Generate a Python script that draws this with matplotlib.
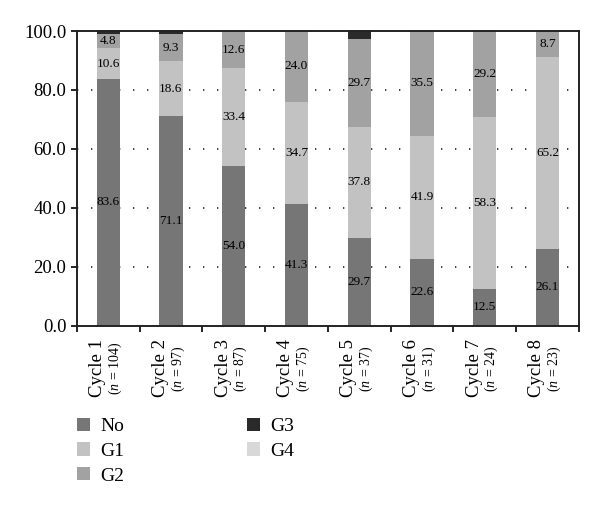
import matplotlib
matplotlib.use("Agg")
import matplotlib.pyplot as plt
from matplotlib.patches import Patch
import numpy as np

plt.rcParams['font.family'] = ['Liberation Serif', 'DejaVu Serif']
plt.rcParams['mathtext.fontset'] = 'custom'
plt.rcParams['mathtext.it'] = 'Liberation Serif:italic'
plt.rcParams['mathtext.rm'] = 'Liberation Serif'

cycles = ["Cycle 1", "Cycle 2", "Cycle 3", "Cycle 4", "Cycle 5", "Cycle 6", "Cycle 7", "Cycle 8"]
n_values = [104, 97, 87, 75, 37, 31, 24, 23]
no_vals = [83.6, 71.1, 54.0, 41.3, 29.7, 22.6, 12.5, 26.1]
g1_vals = [10.6, 18.6, 33.4, 34.7, 37.8, 41.9, 58.3, 65.2]
g2_vals = [4.8, 9.3, 12.6, 24.0, 29.7, 35.5, 29.2, 8.7]
g3_vals = [1.0, 1.0, 0.0, 0.0, 2.7, 0.0, 0.0, 0.0]
g4_vals = [0.0, 0.0, 0.0, 0.0, 0.0, 0.0, 0.0, 0.0]
series_names = ["No", "G1", "G2", "G3", "G4"]
colors = ["#767676", "#c2c2c2", "#a2a2a2", "#2a2a2a", "#d8d8d8"]
labelled = [True, True, True, False, False]

fig = plt.figure(figsize=(6.0, 5.09), dpi=100)
ax = fig.add_axes([0.128, 0.3605, 0.837, 0.5785])

x = np.arange(len(cycles))
width = 0.37
bottom = np.zeros(len(cycles))
series = [no_vals, g1_vals, g2_vals, g3_vals, g4_vals]
for vals, c, lab in zip(series, colors, labelled):
    v = np.array(vals)
    ax.bar(x, v, width, bottom=bottom, color=c, zorder=2, linewidth=0)
    if lab:
        for xi, b, h in zip(x, bottom, v):
            ax.text(xi, b + h / 2, f"{h:.1f}", ha='center', va='center',
                    fontsize=9.5, zorder=3)
    bottom = bottom + v

ax.set_xlim(-0.5, len(cycles) - 0.5)
ax.set_ylim(0, 100)
ax.set_yticks([0, 20, 40, 60, 80, 100])
ax.set_yticklabels([f"{t:.1f}" for t in [0, 20, 40, 60, 80, 100]], fontsize=13.5)
for gy in [20, 40, 60, 80]:
    ax.axhline(gy, color='#222222', lw=1.2, linestyle=(0, (0.8, 7.6)), zorder=1)

ax.set_xticks(np.arange(len(cycles) + 1) - 0.5)
ax.set_xticklabels([])
ax.tick_params(axis='both', direction='out', length=4, width=1.2, color='black')
for s in ax.spines.values():
    s.set_linewidth(1.4)
    s.set_color('#222222')

for xi, name, n in zip(x, cycles, n_values):
    ax.text(xi - 0.17, -0.146, name, rotation=90, ha='center', va='center',
            fontsize=13.5, transform=ax.get_xaxis_transform())
    ax.text(xi + 0.11, -0.146, rf"($n$ = {n})", rotation=90, ha='center', va='center',
            fontsize=10, transform=ax.get_xaxis_transform())

handles = [Patch(facecolor=c, edgecolor='none', label=n) for c, n in zip(colors, series_names)]
fig.legend(handles=handles, loc='upper left', bbox_to_anchor=(0.115, 0.195),
           ncol=2, frameon=False, fontsize=14, handlelength=0.67, handleheight=0.67,
           handletextpad=0.55, labelspacing=0.38, columnspacing=6.3, borderaxespad=0)

fig.savefig("out.png", dpi=100)
